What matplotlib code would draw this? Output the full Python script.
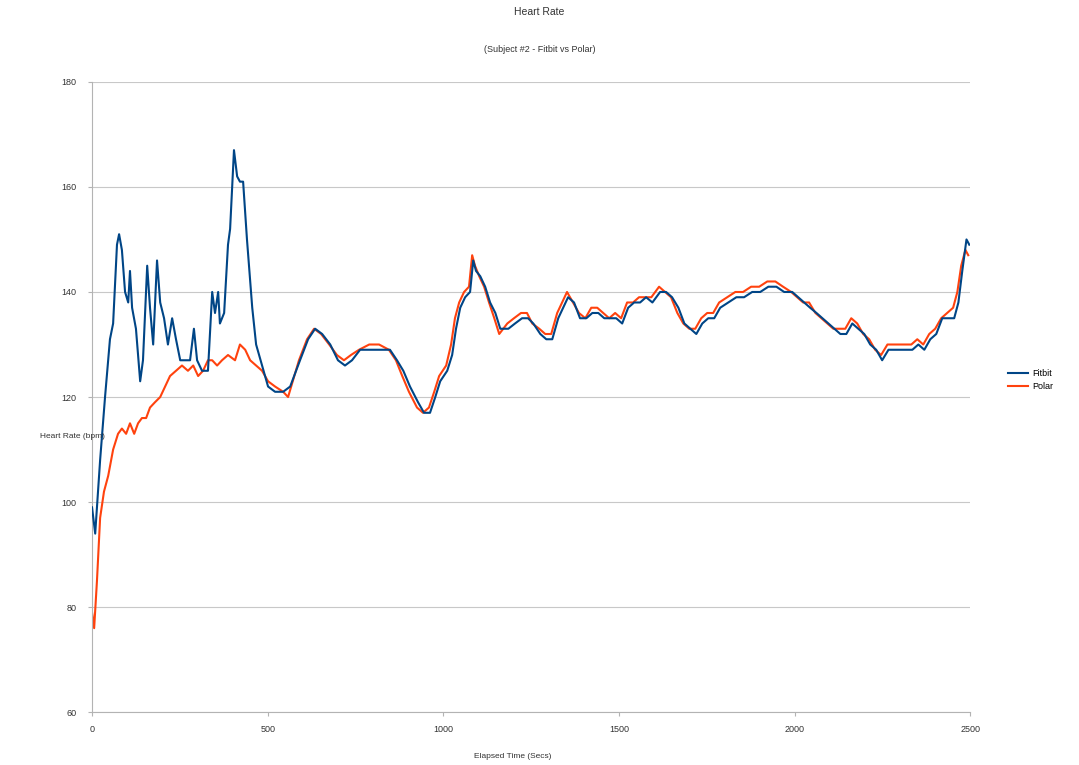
import matplotlib
matplotlib.use("Agg")
import matplotlib.pyplot as plt

plt.rcParams['font.family'] = ['Liberation Sans', 'DejaVu Sans']

# Fitbit readings (elapsed secs, bpm)
fitbit_t = [0, 9, 23, 37, 51, 60, 71, 77, 85, 94,
            103, 108, 114, 125, 137, 145, 157, 165, 174, 185,
            194, 205, 216, 228, 239, 251, 265, 279, 290, 299,
            313, 330, 342, 350, 359, 364, 376, 387, 393, 404,
            413, 421, 430, 441, 456, 467, 484, 501, 521, 544,
            564, 592, 615, 635, 655, 678, 700, 720, 740, 763,
            792, 820, 848, 868, 886, 905, 928, 945, 962, 977,
            991, 1011, 1025, 1036, 1048, 1062, 1076, 1085, 1093, 1105,
            1119, 1133, 1148, 1162, 1185, 1204, 1224, 1241, 1256, 1276,
            1293, 1310, 1327, 1341, 1355, 1372, 1389, 1407, 1424, 1441,
            1458, 1475, 1492, 1509, 1526, 1543, 1560, 1577, 1595, 1617,
            1634, 1651, 1669, 1686, 1703, 1720, 1737, 1754, 1771, 1788,
            1811, 1834, 1856, 1879, 1902, 1925, 1948, 1970, 1993, 2010,
            2027, 2044, 2062, 2079, 2096, 2113, 2130, 2147, 2164, 2181,
            2198, 2215, 2232, 2249, 2267, 2284, 2301, 2318, 2335, 2352,
            2369, 2386, 2403, 2420, 2437, 2454, 2466, 2477, 2489, 2497]
fitbit_hr = [99, 94, 108, 120, 131, 134, 149, 151, 148, 140,
             138, 144, 137, 133, 123, 127, 145, 137, 130, 146,
             138, 135, 130, 135, 131, 127, 127, 127, 133, 127,
             125, 125, 140, 136, 140, 134, 136, 149, 152, 167,
             162, 161, 161, 150, 137, 130, 126, 122, 121, 121,
             122, 127, 131, 133, 132, 130, 127, 126, 127, 129,
             129, 129, 129, 127, 125, 122, 119, 117, 117, 120,
             123, 125, 128, 133, 137, 139, 140, 146, 144, 143,
             141, 138, 136, 133, 133, 134, 135, 135, 134, 132,
             131, 131, 135, 137, 139, 138, 135, 135, 136, 136,
             135, 135, 135, 134, 137, 138, 138, 139, 138, 140,
             140, 139, 137, 134, 133, 132, 134, 135, 135, 137,
             138, 139, 139, 140, 140, 141, 141, 140, 140, 139,
             138, 137, 136, 135, 134, 133, 132, 132, 134, 133,
             132, 130, 129, 127, 129, 129, 129, 129, 129, 130,
             129, 131, 132, 135, 135, 135, 138, 144, 150, 149]

# Polar readings
polar_t = [0, 6, 14, 23, 34, 46, 60, 74, 85, 97,
           108, 120, 131, 142, 154, 165, 179, 194, 208, 222,
           239, 256, 273, 288, 302, 316, 330, 342, 356, 370,
           387, 407, 421, 436, 450, 467, 484, 501, 521, 544,
           558, 589, 612, 632, 652, 675, 697, 717, 737, 760,
           789, 817, 845, 865, 883, 902, 925, 942, 959, 974,
           988, 1008, 1022, 1033, 1045, 1059, 1073, 1082, 1090, 1102,
           1116, 1130, 1145, 1159, 1182, 1201, 1221, 1238, 1253, 1273,
           1290, 1307, 1324, 1338, 1352, 1369, 1386, 1404, 1421, 1438,
           1455, 1472, 1489, 1506, 1523, 1540, 1557, 1574, 1592, 1614,
           1631, 1648, 1666, 1683, 1700, 1717, 1734, 1751, 1768, 1785,
           1808, 1831, 1853, 1876, 1899, 1922, 1945, 1967, 1990, 2007,
           2024, 2041, 2059, 2076, 2093, 2110, 2127, 2144, 2161, 2178,
           2195, 2212, 2229, 2246, 2264, 2281, 2298, 2315, 2332, 2349,
           2366, 2383, 2400, 2417, 2434, 2451, 2463, 2474, 2486, 2494]
polar_hr = [79, 76, 85, 97, 102, 105, 110, 113, 114, 113,
            115, 113, 115, 116, 116, 118, 119, 120, 122, 124,
            125, 126, 125, 126, 124, 125, 127, 127, 126, 127,
            128, 127, 130, 129, 127, 126, 125, 123, 122, 121,
            120, 127, 131, 133, 132, 130, 128, 127, 128, 129,
            130, 130, 129, 127, 124, 121, 118, 117, 118, 121,
            124, 126, 130, 135, 138, 140, 141, 147, 145, 143,
            141, 138, 135, 132, 134, 135, 136, 136, 134, 133,
            132, 132, 136, 138, 140, 138, 136, 135, 137, 137,
            136, 135, 136, 135, 138, 138, 139, 139, 139, 141,
            140, 139, 136, 134, 133, 133, 135, 136, 136, 138,
            139, 140, 140, 141, 141, 142, 142, 141, 140, 139,
            138, 138, 136, 135, 134, 133, 133, 133, 135, 134,
            132, 131, 129, 128, 130, 130, 130, 130, 130, 131,
            130, 132, 133, 135, 136, 137, 140, 145, 148, 147]

fig = plt.figure(figsize=(10.79, 7.65), dpi=100)
ax = fig.add_axes([0.0853, 0.069, 0.814, 0.824])

ax.plot(polar_t, polar_hr, color='#ff420e', lw=1.5, label='Polar', zorder=2)
ax.plot(fitbit_t, fitbit_hr, color='#004586', lw=1.5, label='Fitbit', zorder=3)

ax.set_xlim(0, 2500)
ax.set_ylim(60, 180)
ax.set_xticks(range(0, 2501, 500))
ax.set_yticks(range(60, 181, 20))
ax.grid(axis='y', color='#c8c8c8', lw=0.8)
ax.set_axisbelow(True)
for s in ['top', 'right']:
    ax.spines[s].set_visible(False)
for s in ['left', 'bottom']:
    ax.spines[s].set_color('#b3b3b3')
ax.tick_params(colors='#b3b3b3', labelcolor='#333333', labelsize=6.5, length=3)
ax.tick_params(axis='y', pad=8)
ax.tick_params(axis='x', pad=6)

fig.text(0.5, 1 - 12 / 765, 'Heart Rate', ha='center', va='center', fontsize=7.5, color='#333333')
fig.text(0.5, 1 - 50 / 765, '(Subject #2 - Fitbit vs Polar)', ha='center', va='center',
         fontsize=6.5, color='#333333')
fig.text(40 / 1079, 1 - 437 / 765, 'Heart Rate (bpm)', ha='left', va='center', fontsize=6, color='#333333')
fig.text(513 / 1079, 1 - 757 / 765, 'Elapsed Time (Secs)', ha='center', va='center', fontsize=6,
         color='#333333')

h, l = ax.get_legend_handles_labels()
fig.legend(h[::-1], l[::-1], loc='center left', bbox_to_anchor=(1000 / 1079, 1 - 380 / 765),
           frameon=False, fontsize=6.5, handlelength=2.2, labelspacing=0.5, handletextpad=0.5)

fig.savefig('out.png', dpi=100)
